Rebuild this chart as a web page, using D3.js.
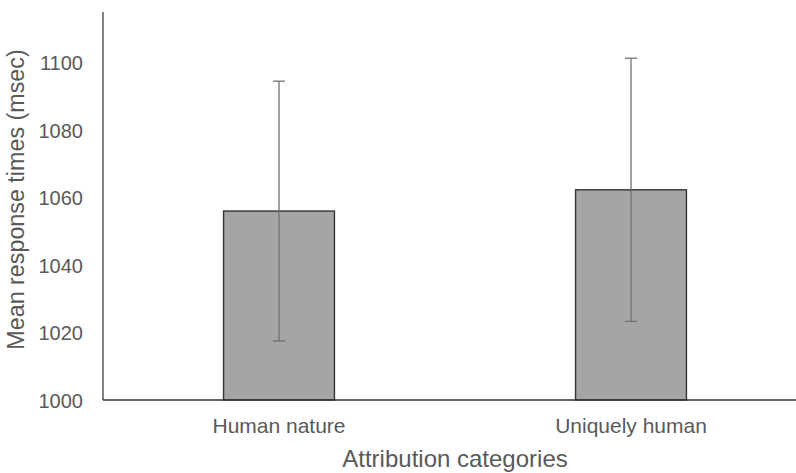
<!DOCTYPE html>
<html>
<head>
<meta charset="utf-8">
<script src="https://cdn.jsdelivr.net/npm/d3@7/dist/d3.min.js"></script>
<style>
  html, body { margin: 0; padding: 0; background: #ffffff; }
  svg { display: block; }
  text { font-family: "Liberation Sans", Arial, sans-serif; fill: #595959; }
</style>
</head>
<body>
<svg id="chart" width="796" height="473"></svg>
<script>
// Mean response times per attribution category, with error bars
const categories = ["Human nature", "Uniquely human"];
const meanTimes = [1056, 1062.3];
const errorMargins = [38.5, 39];
const yTicks = [1000, 1020, 1040, 1060, 1080, 1100];

const width = 796, height = 473;
const plot = { left: 103, right: 807, top: 12, bottom: 400 };

const svg = d3.select("#chart");

const x = d3.scaleBand()
  .domain(categories)
  .range([plot.left, plot.right])
  .paddingInner(0.685)
  .paddingOuter(0.3425);

const y = d3.scaleLinear()
  .domain([1000, 1115])
  .range([plot.bottom, plot.top]);

// Bars
svg.append("g")
  .selectAll("rect")
  .data(categories)
  .join("rect")
  .attr("x", d => x(d))
  .attr("width", x.bandwidth())
  .attr("y", (d, i) => y(meanTimes[i]))
  .attr("height", (d, i) => y(1000) - y(meanTimes[i]))
  .attr("fill", "#a5a5a8")
  .attr("stroke", "#333333")
  .attr("stroke-width", 1.4);

// Error bars
const capHalf = 6;
const eb = svg.append("g")
  .attr("stroke", "#707070")
  .attr("stroke-width", 1.3)
  .attr("fill", "none");
categories.forEach((c, i) => {
  const cx = x(c) + x.bandwidth() / 2;
  const hi = y(meanTimes[i] + errorMargins[i]);
  const lo = y(meanTimes[i] - errorMargins[i]);
  eb.append("line").attr("x1", cx).attr("x2", cx).attr("y1", hi).attr("y2", lo);
  eb.append("line").attr("x1", cx - capHalf).attr("x2", cx + capHalf).attr("y1", hi).attr("y2", hi);
  eb.append("line").attr("x1", cx - capHalf).attr("x2", cx + capHalf).attr("y1", lo).attr("y2", lo);
});

// Y axis
const yAxis = svg.append("g")
  .attr("transform", `translate(${plot.left},0)`)
  .call(d3.axisLeft(y).tickValues(yTicks).tickSize(0).tickPadding(20).tickFormat(d3.format("d")));
yAxis.select(".domain")
  .attr("stroke", "#595959")
  .attr("stroke-width", 1.5)
  .attr("d", `M0,${plot.top}V${plot.bottom}`);
yAxis.selectAll(".tick text")
  .style("font-size", "20px")
  .attr("fill", "#595959")
  .attr("dy", "0.36em");

// X axis
const xAxis = svg.append("g")
  .attr("transform", `translate(0,${plot.bottom})`)
  .call(d3.axisBottom(x).tickSize(0).tickPadding(0));
xAxis.select(".domain")
  .attr("stroke", "#333333")
  .attr("stroke-width", 1.5)
  .attr("d", `M${plot.left},0H${plot.right}`);
xAxis.selectAll(".tick text")
  .style("font-size", "21px")
  .attr("fill", "#595959")
  .attr("y", 33)
  .attr("dy", 0);

// Axis titles
svg.append("text")
  .attr("x", (plot.left + plot.right) / 2)
  .attr("y", 467)
  .attr("text-anchor", "middle")
  .style("font-size", "24px")
  .text("Attribution categories");

svg.append("text")
  .attr("transform", "translate(24,199.5) rotate(-90)")
  .attr("text-anchor", "middle")
  .style("font-size", "23.3px")
  .text("Mean response times (msec)");
</script>
</body>
</html>
